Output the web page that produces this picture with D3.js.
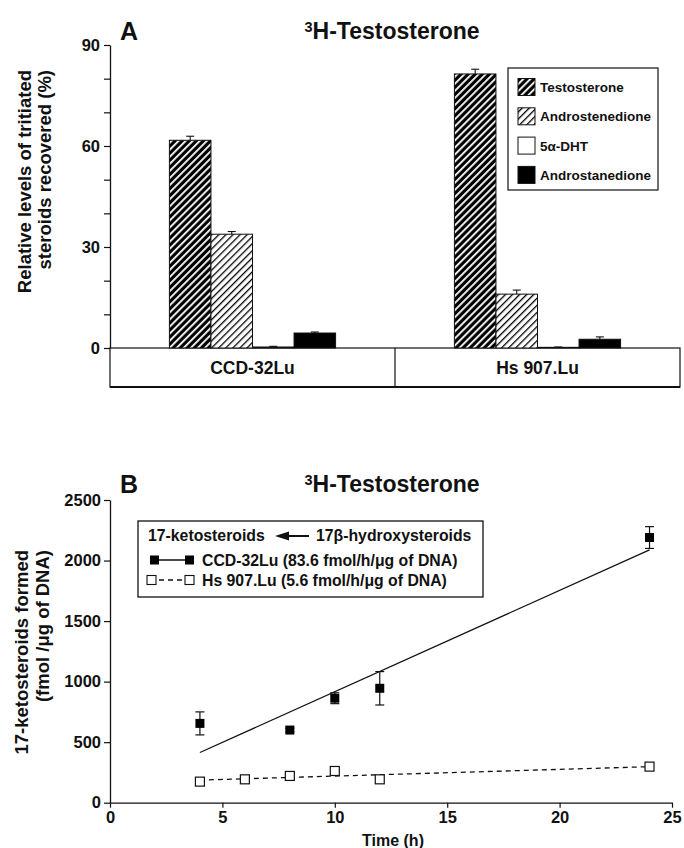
<!DOCTYPE html>
<html><head><meta charset="utf-8">
<script src="https://cdn.jsdelivr.net/npm/d3@7"></script>
<style>
body{margin:0;background:#fff}
svg{display:block}
text{font-family:"Liberation Sans",Arial,Helvetica,sans-serif;font-weight:bold;fill:#111}
</style>
</head><body>
<svg id="chart" width="684" height="848"></svg>
<script>
// ---------- Panel A data ----------
const groups = ["CCD-32Lu", "Hs 907.Lu"];
const steroids = ["Testosterone", "Androstenedione", "5α-DHT", "Androstanedione"];
const ccdMeans = [61.7, 33.8, 0.3, 4.45];
const ccdErrors = [1.2, 0.8, 0.2, 0.3];
const hsMeans = [81.4, 16.0, 0.2, 2.6];
const hsErrors = [1.4, 1.2, 0.1, 0.7];
const yTicksA = [0, 10, 20, 30, 40, 50, 60, 70, 80, 90];
const yLabelsA = [0, 30, 60, 90];

// ---------- Panel B data ----------
const ccdTimes = [4, 8, 10, 12, 24];
const ccdValues = [655, 600, 863, 945, 2190];
const ccdErrs = [95, 15, 45, 138, 90];
const hsTimes = [4, 6, 8, 10, 12, 24];
const hsValues = [174, 193, 221, 262, 193, 298];
const xTicksB = [0, 5, 10, 15, 20, 25];
const yTicksB = [0, 500, 1000, 1500, 2000, 2500];
const legendBHeader = ["17-ketosteroids", "17β-hydroxysteroids"];
const legendBItems = ["CCD-32Lu (83.6 fmol/h/μg of DNA)", "Hs 907.Lu (5.6 fmol/h/μg of DNA)"];

const svg = d3.select("#chart");
const defs = svg.append("defs");

// patterns
const pT = defs.append("pattern").attr("id", "patT").attr("patternUnits", "userSpaceOnUse")
  .attr("width", 5).attr("height", 5).attr("patternTransform", "rotate(45)");
pT.append("rect").attr("width", 5).attr("height", 5).attr("fill", "#000");
pT.append("rect").attr("x", 0).attr("width", 1.8).attr("height", 5).attr("fill", "#fff");
const pA = defs.append("pattern").attr("id", "patA").attr("patternUnits", "userSpaceOnUse")
  .attr("width", 5).attr("height", 5).attr("patternTransform", "rotate(45)");
pA.append("rect").attr("width", 5).attr("height", 5).attr("fill", "#fff");
pA.append("rect").attr("x", 0).attr("width", 1.3).attr("height", 5).attr("fill", "#000");
const fills = ["url(#patT)", "url(#patA)", "#fff", "#000"];

// ================= PANEL A =================
const yA = d3.scaleLinear().domain([0, 90]).range([348, 45]);
const x0 = d3.scaleBand().domain(groups).range([110, 680]);
const x1 = d3.scaleBand().domain(steroids).range([0, x0.bandwidth()]).paddingInner(0).paddingOuter(1.43);

const gA = svg.append("g");
// titles
gA.append("text").attr("x", 120).attr("y", 40).attr("font-size", 25).text("A");
const tA = gA.append("text").attr("x", 392).attr("y", 39).attr("text-anchor", "middle").attr("font-size", 23);
tA.append("tspan").attr("font-size", 14.5).attr("dy", -7).text("3");
tA.append("tspan").attr("dy", 7).text("H-Testosterone");

// y axis label
const ylA = gA.append("text").attr("transform", "translate(31,70) rotate(-90)").attr("text-anchor", "end").attr("font-size", 18.5);
ylA.append("tspan").attr("x", 0).attr("dy", 0).text("Relative levels of tritiated");
ylA.append("tspan").attr("x", 0).attr("dy", 20).text("steroids recovered (%)");

// y axis
const axA = gA.append("g").attr("transform", "translate(110,0)")
  .call(d3.axisLeft(yA).tickValues(yTicksA).tickSize(6).tickSizeOuter(0)
    .tickFormat(d => yLabelsA.includes(d) ? d : ""));
axA.select(".domain").attr("stroke", "#111").attr("stroke-width", 1.3);
axA.selectAll(".tick line").attr("stroke", "#111").attr("stroke-width", 1.2);
axA.selectAll(".tick text").attr("font-size", 16.5).attr("font-family", "Liberation Sans, Arial, sans-serif").attr("font-weight", "bold").attr("fill", "#111").attr("dx", -1);

// category box
gA.append("rect").attr("x", 110).attr("y", yA(0)).attr("width", 680 - 110).attr("height", 39)
  .attr("fill", "none").attr("stroke", "#111").attr("stroke-width", 1.2);
gA.append("line").attr("x1", 110).attr("x2", 680).attr("y1", yA(0) + 39).attr("y2", yA(0) + 39).attr("stroke", "#111").attr("stroke-width", 2);
gA.append("line").attr("x1", x0(groups[1])).attr("x2", x0(groups[1])).attr("y1", yA(0)).attr("y2", yA(0) + 39).attr("stroke", "#111").attr("stroke-width", 1.2);
gA.selectAll(".glabel").data(groups).join("text")
  .attr("x", d => x0(d) + x0.bandwidth() / 2).attr("y", yA(0) + 26).attr("text-anchor", "middle").attr("font-size", 17.5)
  .text(d => d);

// bars
const barData = [];
groups.forEach((g, gi) => {
  const m = gi === 0 ? ccdMeans : hsMeans;
  const e = gi === 0 ? ccdErrors : hsErrors;
  steroids.forEach((s, si) => barData.push({g, s, si, v: m[si], e: e[si]}));
});
const bars = gA.append("g");
bars.selectAll("rect").data(barData).join("rect")
  .attr("x", d => x0(d.g) + x1(d.s)).attr("width", x1.bandwidth())
  .attr("y", d => yA(d.v)).attr("height", d => yA(0) - yA(d.v))
  .attr("fill", d => fills[d.si]).attr("stroke", "#111").attr("stroke-width", 1);
// error bars
const eb = gA.append("g").attr("stroke", "#111").attr("stroke-width", 1.1);
barData.forEach(d => {
  const cx = x0(d.g) + x1(d.s) + x1.bandwidth() / 2;
  eb.append("line").attr("x1", cx).attr("x2", cx).attr("y1", yA(d.v)).attr("y2", yA(d.v + d.e));
  eb.append("line").attr("x1", cx - 4).attr("x2", cx + 4).attr("y1", yA(d.v + d.e)).attr("y2", yA(d.v + d.e));
});

// legend A
const lgA = gA.append("g");
lgA.append("rect").attr("x", 508).attr("y", 68).attr("width", 150).attr("height", 122)
  .attr("fill", "#fff").attr("stroke", "#111").attr("stroke-width", 1.2);
steroids.forEach((s, i) => {
  const cy = 87 + i * 29.3;
  lgA.append("rect").attr("x", 518).attr("y", cy - 8.5).attr("width", 17).attr("height", 17)
    .attr("fill", fills[i]).attr("stroke", "#111").attr("stroke-width", 1);
  lgA.append("text").attr("x", 540).attr("y", cy + 5).attr("font-size", 13.5).text(s);
});

// ================= PANEL B =================
const xB = d3.scaleLinear().domain([0, 25]).range([110, 672]);
const yB = d3.scaleLinear().domain([0, 2500]).range([802.7, 500]);
const gB = svg.append("g");

gB.append("text").attr("x", 120).attr("y", 493).attr("font-size", 25).text("B");
const tB = gB.append("text").attr("x", 392).attr("y", 492).attr("text-anchor", "middle").attr("font-size", 23);
tB.append("tspan").attr("font-size", 14.5).attr("dy", -7).text("3");
tB.append("tspan").attr("dy", 7).text("H-Testosterone");

const ylB = gB.append("text").attr("transform", "translate(28,550) rotate(-90)").attr("text-anchor", "end").attr("font-size", 18.5);
ylB.append("tspan").attr("x", 0).attr("dy", 0).text("17-ketosteroids formed");
ylB.append("tspan").attr("x", 0).attr("dy", 21).text("(fmol /μg of DNA)");

const axBy = gB.append("g").attr("transform", "translate(110,0)")
  .call(d3.axisLeft(yB).tickValues(yTicksB).tickSize(6).tickSizeOuter(0).tickFormat(d3.format("d")));
const axBx = gB.append("g").attr("transform", `translate(0,${yB(0)})`)
  .call(d3.axisBottom(xB).tickValues(xTicksB).tickSize(5).tickSizeOuter(0).tickFormat(d3.format("d")));
[axBy, axBx].forEach(a => {
  a.select(".domain").attr("stroke", "#111").attr("stroke-width", 1.3);
  a.selectAll(".tick line").attr("stroke", "#111").attr("stroke-width", 1.2);
  a.selectAll(".tick text").attr("font-size", 16.5).attr("font-family", "Liberation Sans, Arial, sans-serif").attr("font-weight", "bold").attr("fill", "#111");
});
axBx.selectAll(".tick text").attr("dy", "0.75em");
gB.append("text").attr("x", 393).attr("y", 846).attr("text-anchor", "middle").attr("font-size", 16).text("Time (h)");

// regression lines (least squares from the data)
function fit(xs, ys) {
  const mx = d3.mean(xs), my = d3.mean(ys);
  const sxy = d3.sum(xs, (x, i) => (x - mx) * (ys[i] - my));
  const sxx = d3.sum(xs, x => (x - mx) * (x - mx));
  const b = sxy / sxx; return {b, a: my - b * mx};
}
const fc = fit(ccdTimes, ccdValues), fh = fit(hsTimes, hsValues);
const xr = d3.extent(ccdTimes);
gB.append("line").attr("x1", xB(xr[0])).attr("x2", xB(xr[1]))
  .attr("y1", yB(fc.a + fc.b * xr[0])).attr("y2", yB(fc.a + fc.b * xr[1]))
  .attr("stroke", "#111").attr("stroke-width", 1.3);
const xh = d3.extent(hsTimes);
gB.append("line").attr("x1", xB(xh[0])).attr("x2", xB(xh[1]))
  .attr("y1", yB(fh.a + fh.b * xh[0])).attr("y2", yB(fh.a + fh.b * xh[1]))
  .attr("stroke", "#111").attr("stroke-width", 1.3).attr("stroke-dasharray", "5,4");

// error bars CCD
const ebB = gB.append("g").attr("stroke", "#111").attr("stroke-width", 1.2);
ccdTimes.forEach((t, i) => {
  const cx = xB(t), top = yB(ccdValues[i] + ccdErrs[i]), bot = yB(ccdValues[i] - ccdErrs[i]);
  ebB.append("line").attr("x1", cx).attr("x2", cx).attr("y1", top).attr("y2", bot);
  ebB.append("line").attr("x1", cx - 4.5).attr("x2", cx + 4.5).attr("y1", top).attr("y2", top);
  ebB.append("line").attr("x1", cx - 4.5).attr("x2", cx + 4.5).attr("y1", bot).attr("y2", bot);
});
// markers
gB.append("g").selectAll("rect").data(hsTimes).join("rect")
  .attr("x", (d) => xB(d) - 4.5).attr("y", (d, i) => yB(hsValues[i]) - 4.5)
  .attr("width", 9).attr("height", 9).attr("fill", "#fff").attr("stroke", "#111").attr("stroke-width", 1.2);
gB.append("g").selectAll("rect").data(ccdTimes).join("rect")
  .attr("x", (d) => xB(d) - 4.5).attr("y", (d, i) => yB(ccdValues[i]) - 4.5)
  .attr("width", 9).attr("height", 9).attr("fill", "#000");

// legend B
const lgB = gB.append("g");
lgB.append("rect").attr("x", 138).attr("y", 521).attr("width", 345).attr("height", 76)
  .attr("fill", "#fff").attr("stroke", "#111").attr("stroke-width", 1.3);
lgB.append("text").attr("x", 148).attr("y", 541).attr("font-size", 15.8).text(legendBHeader[0]);
lgB.append("line").attr("x1", 286).attr("x2", 309).attr("y1", 536).attr("y2", 536).attr("stroke", "#111").attr("stroke-width", 2);
lgB.append("path").attr("d", "M275,536 L289,531.5 L289,540.5 Z").attr("fill", "#111");
lgB.append("text").attr("x", 316).attr("y", 541).attr("font-size", 15.8).text(legendBHeader[1]);
// row 1
lgB.append("line").attr("x1", 154).attr("x2", 189).attr("y1", 560).attr("y2", 560).attr("stroke", "#111").attr("stroke-width", 1.3);
[150, 185].forEach(x => lgB.append("rect").attr("x", x).attr("y", 555.5).attr("width", 9).attr("height", 9).attr("fill", "#000"));
lgB.append("text").attr("x", 202).attr("y", 565.5).attr("font-size", 15.8).text(legendBItems[0]);
// row 2
lgB.append("line").attr("x1", 156).attr("x2", 185).attr("y1", 580).attr("y2", 580).attr("stroke", "#111").attr("stroke-width", 1.3).attr("stroke-dasharray", "5,4").attr("stroke-dashoffset", -3);
[147, 185].forEach(x => lgB.append("rect").attr("x", x).attr("y", 575.5).attr("width", 9).attr("height", 9).attr("fill", "#fff").attr("stroke", "#111").attr("stroke-width", 1.1));
lgB.append("text").attr("x", 202).attr("y", 586).attr("font-size", 15.8).text(legendBItems[1]);
</script>
</body></html>
